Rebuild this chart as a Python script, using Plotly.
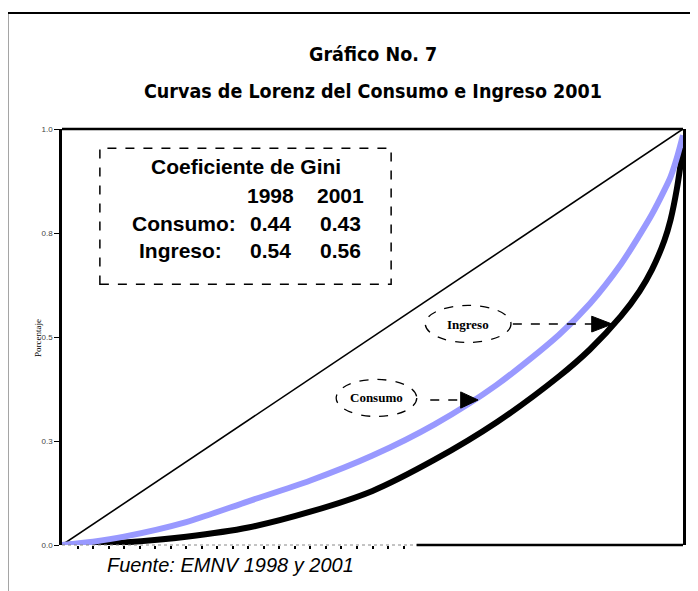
"""Curvas de Lorenz del consumo e ingreso, 2001."""

import plotly.graph_objects as go

# population share (x) and cumulative share (y)
pob = [0, 0.05, 0.10, 0.20, 0.30, 0.40, 0.50, 0.60, 0.70, 0.80, 0.85, 0.90, 0.93, 0.95, 0.97, 0.98, 0.99, 1.0]
consumo = [0, 0.008, 0.02, 0.055, 0.105, 0.155, 0.215, 0.29, 0.385, 0.505, 0.58, 0.675, 0.745, 0.795, 0.853, 0.885, 0.93, 0.985]
ingreso = [0, 0.002, 0.006, 0.02, 0.042, 0.08, 0.13, 0.205, 0.295, 0.405, 0.47, 0.55, 0.61, 0.662, 0.732, 0.782, 0.855, 0.955]
igualdad = [0, 1]

y_ticks = [0, 0.25, 0.5, 0.75, 1.0]
y_tick_text = ["0.0", "0.3", "0.5", "0.8", "1.0"]

gini_years = ["1998", "2001"]
gini_rows = ["Consumo:", "Ingreso:"]
gini_vals = [["0.44", "0.43"], ["0.54", "0.56"]]

TITLE_FONT = "Liberation Sans Narrow, DejaVu Sans Condensed, Arial Narrow, sans-serif"
SANS = "Liberation Sans, Arial, sans-serif"
SERIF = "Liberation Serif, Times New Roman, serif"

fig = go.Figure()

fig.add_trace(go.Scatter(x=igualdad, y=igualdad, mode="lines",
                         line=dict(color="black", width=1.6), hoverinfo="skip"))
fig.add_trace(go.Scatter(x=pob, y=ingreso, mode="lines", name="Ingreso",
                         line=dict(color="black", width=6, shape="spline", smoothing=0.8)))
fig.add_trace(go.Scatter(x=pob, y=consumo, mode="lines", name="Consumo",
                         line=dict(color="#9999ff", width=6, shape="spline", smoothing=0.8)))

shapes = [
    # outer frame
    dict(type="rect", xref="paper", yref="paper", x0=-0.088, x1=1.05, y0=-0.15, y1=1.279,
         line=dict(color="black", width=2)),
    # plot top border
    dict(type="line", xref="paper", yref="paper", x0=0, x1=1, y0=1, y1=1,
         line=dict(color="black", width=2.5)),
    # bottom border: dotted then solid
    dict(type="line", xref="paper", yref="paper", x0=0, x1=0.571, y0=0, y1=0,
         line=dict(color="#888888", width=1, dash="dot")),
    dict(type="line", xref="paper", yref="paper", x0=0.571, x1=1, y0=0, y1=0,
         line=dict(color="black", width=2.5)),
    # Gini box
    dict(type="rect", xref="paper", yref="paper", x0=0.061, x1=0.530, y0=0.627, y1=0.954,
         line=dict(color="black", width=1.5, dash="dash")),
    # callout ellipses
    dict(type="circle", xref="paper", yref="paper", x0=0.585, x1=0.723, y0=0.487, y1=0.576,
         line=dict(color="black", width=1.3, dash="dash")),
    dict(type="circle", xref="paper", yref="paper", x0=0.4415, x1=0.5713, y0=0.309, y1=0.398,
         line=dict(color="black", width=1.3, dash="dash")),
    # callout arrows (dashed shaft + filled head)
    dict(type="line", xref="paper", yref="paper", x0=0.726, x1=0.856, y0=0.531, y1=0.531,
         line=dict(color="black", width=1.5, dash="dash")),
    dict(type="path", xref="paper", yref="paper",
         path="M 0.853,0.550 L 0.886,0.531 L 0.853,0.512 Z",
         fillcolor="black", line=dict(color="black", width=1)),
    dict(type="line", xref="paper", yref="paper", x0=0.593, x1=0.644, y0=0.3486, y1=0.3486,
         line=dict(color="black", width=1.5, dash="dash")),
    dict(type="path", xref="paper", yref="paper",
         path="M 0.642,0.368 L 0.670,0.3486 L 0.642,0.329 Z",
         fillcolor="black", line=dict(color="black", width=1)),
]

annotations = [
    dict(text="<b>Gráfico No. 7</b>", x=0.5, y=1.180,
         font=dict(family=TITLE_FONT, size=19.5, color="black")),
    dict(text="<b>Curvas de Lorenz del Consumo e Ingreso 2001</b>", x=0.5, y=1.091,
         font=dict(family=TITLE_FONT, size=19.5, color="black")),
    dict(text="<b>Coeficiente de Gini</b>", x=0.297, y=0.909,
         font=dict(family=SANS, size=21, color="black")),
    dict(text="Porcentaje", x=-0.0385, y=0.4976, textangle=-90,
         font=dict(family=SERIF, size=9, color="black")),
    dict(text="<b>Ingreso</b>", x=0.654, y=0.5312,
         font=dict(family=SERIF, size=13, color="black")),
    dict(text="<b>Consumo</b>", x=0.5064, y=0.3534,
         font=dict(family=SERIF, size=13, color="black")),
    dict(text="<i>Fuente: EMNV 1998 y 2001</i>", x=0.0689, y=-0.048, xanchor="left",
         font=dict(family=SANS, size=20, color="black")),
]

col_x = [0.336, 0.449]
row_y = [0.774, 0.709]
row_x = [0.1090, 0.1202]
for cx, yr in zip(col_x, gini_years):
    annotations.append(dict(text=f"<b>{yr}</b>", x=cx, y=0.841,
                            font=dict(family=SANS, size=21, color="black")))
for ry, rx, label, vals in zip(row_y, row_x, gini_rows, gini_vals):
    annotations.append(dict(text=f"<b>{label}</b>", x=rx, y=ry, xanchor="left",
                            font=dict(family=SANS, size=21, color="black")))
    for cx, v in zip(col_x, vals):
        annotations.append(dict(text=f"<b>{v}</b>", x=cx, y=ry,
                                font=dict(family=SANS, size=21, color="black")))

for a in annotations:
    a.setdefault("xref", "paper")
    a.setdefault("yref", "paper")
    a.setdefault("showarrow", False)
    a.setdefault("xanchor", "center")
    a.setdefault("yanchor", "middle")

# page body has an 8px margin, so the figure is 8px smaller each way
fig.update_layout(
    width=690,
    height=583,
    margin=dict(l=54, r=12, t=121, b=46),
    paper_bgcolor="white",
    plot_bgcolor="white",
    showlegend=False,
    shapes=shapes,
    annotations=annotations,
)

fig.update_xaxes(
    range=[0, 1],
    showgrid=False,
    zeroline=False,
    showline=False,
    ticks="outside",
    ticklen=3,
    tickwidth=1.5,
    tickcolor="black",
    tickvals=[i * 0.025 for i in range(1, 23)],
    showticklabels=False,
)

fig.update_yaxes(
    range=[0, 1],
    showgrid=False,
    zeroline=False,
    showline=True,
    mirror=True,
    linecolor="black",
    linewidth=2.5,
    ticks="outside",
    ticklen=5,
    tickcolor="black",
    tickvals=y_ticks,
    ticktext=y_tick_text,
    tickfont=dict(family=SANS, size=8, color="#444444"),
)

fig.write_html("out.html")
